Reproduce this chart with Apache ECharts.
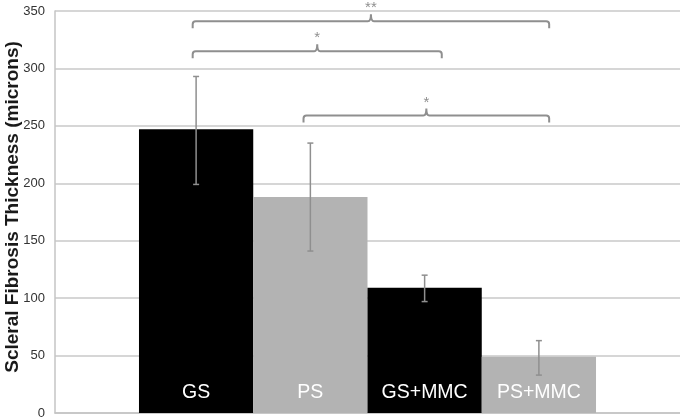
<!DOCTYPE html>
<html>
<head>
<meta charset="utf-8">
<style>
  html, body { margin: 0; padding: 0; background: #fff; }
  #main { width: 680px; height: 419px; }
</style>
<script src="https://cdn.jsdelivr.net/npm/echarts@6/dist/echarts.min.js"></script>
</head>
<body>
<div id="main"></div>
<script>
// groups and values
const categories = ['GS', 'PS', 'GS+MMC', 'PS+MMC'];
const means = [247, 188, 109, 49];
const errLow = [199, 141, 97, 33];
const errHigh = [293, 235, 120, 63];
const yTicks = [0, 50, 100, 150, 200, 250, 300, 350];

// significance brackets (in bar index units)
const bracketFrom = [-0.03, -0.03, 0.94];
const bracketTo = [3.09, 2.15, 3.09];
const bracketLevel = [341, 315, 259];
const bracketText = ['**', '*', '*'];

const GRAY = '#8f8f8f';
const FONT = '"Liberation Sans", Arial, sans-serif';

const chart = echarts.init(document.getElementById('main'));

// bars drawn as rects, one bar index unit wide, so they touch
function barItem(params, api) {
  const i = params.dataIndex;
  const x = api.value(0);
  const top = api.coord([x - 0.5, api.value(1)]);
  const base = api.coord([x + 0.5, 0]);
  return {
    type: 'group',
    children: [
      {
        type: 'rect',
        shape: { x: top[0], y: top[1], width: base[0] - top[0], height: base[1] - top[1] },
        style: { fill: i % 2 === 0 ? '#000000' : '#b3b3b3' }
      },
      {
        type: 'text',
        x: (top[0] + base[0]) / 2,
        y: base[1] - 20,
        style: {
          text: categories[i],
          fill: '#fff',
          font: '19.5px ' + FONT,
          align: 'center',
          verticalAlign: 'middle'
        }
      }
    ]
  };
}

function errorItem(params, api) {
  const x = api.value(0);
  const lo = api.coord([x, api.value(1)]);
  const hi = api.coord([x, api.value(2)]);
  const w = 3;
  const st = { stroke: GRAY, lineWidth: 1.5 };
  return {
    type: 'group',
    children: [
      { type: 'line', shape: { x1: lo[0], y1: lo[1], x2: hi[0], y2: hi[1] }, style: st },
      { type: 'line', shape: { x1: lo[0] - w, y1: lo[1], x2: lo[0] + w, y2: lo[1] }, style: st },
      { type: 'line', shape: { x1: hi[0] - w, y1: hi[1], x2: hi[0] + w, y2: hi[1] }, style: st }
    ]
  };
}

function bracketItem(params, api) {
  const i = params.dataIndex;
  const x0 = api.value(0), x1 = api.value(1), lv = api.value(2);
  const a = api.coord([x0, lv]);
  const b = api.coord([x1, lv]);
  const mid = api.coord([(x0 + x1) / 2, lv]);
  const drop = 7, r = 3, up = 7;
  const path =
    'M' + a[0] + ' ' + (a[1] + drop) +
    ' L' + a[0] + ' ' + (a[1] + r) +
    ' Q' + a[0] + ' ' + a[1] + ' ' + (a[0] + r) + ' ' + a[1] +
    ' L' + (mid[0] - r) + ' ' + mid[1] +
    ' Q' + mid[0] + ' ' + mid[1] + ' ' + mid[0] + ' ' + (mid[1] - up) +
    ' Q' + mid[0] + ' ' + mid[1] + ' ' + (mid[0] + r) + ' ' + mid[1] +
    ' L' + (b[0] - r) + ' ' + b[1] +
    ' Q' + b[0] + ' ' + b[1] + ' ' + b[0] + ' ' + (b[1] + r) +
    ' L' + b[0] + ' ' + (b[1] + drop);
  return {
    type: 'group',
    children: [
      {
        type: 'path',
        shape: { pathData: path },
        style: { stroke: GRAY, lineWidth: 2, fill: null }
      },
      {
        type: 'text',
        x: mid[0],
        y: mid[1] - 13,
        style: {
          text: bracketText[i],
          fill: GRAY,
          font: '15px ' + FONT,
          align: 'center',
          verticalAlign: 'middle'
        }
      }
    ]
  };
}

chart.setOption({
  animation: false,
  textStyle: { fontFamily: FONT },
  grid: { left: 55, right: 0, top: 11, bottom: 6, containLabel: false, outerBoundsMode: 'none' },
  xAxis: {
    type: 'value',
    min: -1.235,
    max: 4.235,
    axisLine: { show: true, onZero: false, lineStyle: { color: '#c4c4c4', width: 1.5 } },
    axisTick: { show: false },
    axisLabel: { show: false },
    splitLine: { show: false }
  },
  yAxis: {
    type: 'value',
    min: yTicks[0],
    max: yTicks[yTicks.length - 1],
    interval: 50,
    name: 'Scleral Fibrosis Thickness (microns)',
    nameLocation: 'middle',
    nameGap: 33,
    nameMoveOverlap: false,
    nameTextStyle: { fontSize: 19, fontWeight: 'bold', color: '#1a1a1a', padding: [0, 0, 0, 10] },
    axisLine: { show: true, onZero: false, lineStyle: { color: '#c4c4c4', width: 1.5 } },
    axisTick: { show: false },
    axisLabel: { fontSize: 13, color: '#333', margin: 10 },
    splitLine: { show: true, lineStyle: { color: '#c8c8c8', width: 1.5 } }
  },
  series: [
    {
      type: 'custom',
      renderItem: barItem,
      data: means.map((v, i) => [i, v]),
      z: 2
    },
    {
      type: 'custom',
      renderItem: errorItem,
      data: means.map((_, i) => [i, errLow[i], errHigh[i]]),
      z: 5
    },
    {
      type: 'custom',
      renderItem: bracketItem,
      clip: false,
      data: bracketLevel.map((lv, i) => [bracketFrom[i], bracketTo[i], lv]),
      z: 5
    }
  ]
});
</script>
</body>
</html>
